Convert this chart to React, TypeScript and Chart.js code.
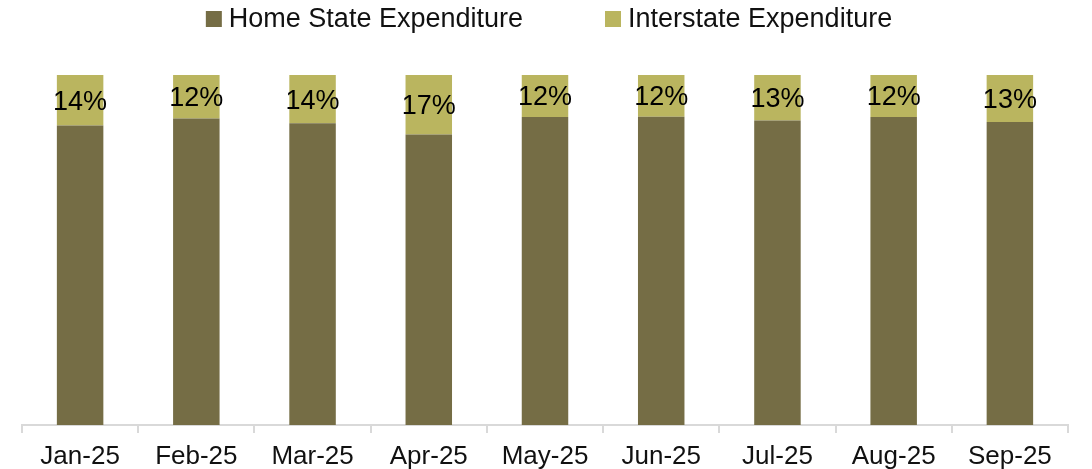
import React, { useEffect, useRef } from "react";
import { Chart, registerables } from "chart.js";

Chart.register(...registerables);

const categories = ["Jan-25", "Feb-25", "Mar-25", "Apr-25", "May-25", "Jun-25", "Jul-25", "Aug-25", "Sep-25"];
const interstateShare = [14.4, 12.4, 13.8, 17.0, 12.0, 11.9, 13.0, 12.0, 13.4];
const homeShare = interstateShare.map((v) => 100 - v);
const seriesNames = ["Home State Expenditure", "Interstate Expenditure"];
const colors = ["#756d45", "#bab55f"];

const FONT = "'Liberation Sans', Arial, sans-serif";

const labelPlugin = {
  id: "segLabels",
  afterDatasetsDraw(chart: any) {
    const ctx = chart.ctx;
    const meta = chart.getDatasetMeta(1);
    ctx.save();
    ctx.font = `27px ${FONT}`;
    ctx.fillStyle = "#000";
    ctx.textAlign = "center";
    ctx.textBaseline = "middle";
    meta.data.forEach((bar: any, i: number) => {
      const { x, y, base } = bar.getProps(["x", "y", "base"], true);
      ctx.fillText(`${Math.round(interstateShare[i])}%`, x, (y + base) / 2 + 2);
    });
    ctx.restore();
  },
};

const customLegend = {
  id: "customLegend",
  afterDraw(chart: any) {
    const ctx = chart.ctx;
    ctx.save();
    ctx.font = `27px ${FONT}`;
    ctx.textBaseline = "middle";
    ctx.textAlign = "left";
    const box = 16;
    const boxGap = 7;
    const itemGap = 82;
    const widths = seriesNames.map((n) => ctx.measureText(n).width);
    const total = widths.reduce((a, w) => a + box + boxGap + w, 0) + itemGap * (seriesNames.length - 1);
    let x = chart.width / 2 + 3 - total / 2;
    const cy = 19;
    seriesNames.forEach((name, i) => {
      ctx.fillStyle = colors[i];
      ctx.fillRect(x, cy - box / 2, box, box);
      x += box + boxGap;
      ctx.fillStyle = "#111";
      ctx.fillText(name, x, cy + 1);
      x += widths[i] + itemGap;
    });
    ctx.restore();
  },
};

export default function App() {
  const ref = useRef<HTMLCanvasElement>(null);
  useEffect(() => {
    if (!ref.current) return;
    const chart = new Chart(ref.current, {
      type: "bar",
      data: {
        labels: categories,
        datasets: [
          { label: seriesNames[0], data: homeShare, backgroundColor: colors[0] },
          { label: seriesNames[1], data: interstateShare, backgroundColor: colors[1] },
        ],
      },
      options: {
        animation: false,
        responsive: false,
        maintainAspectRatio: false,
        datasets: { bar: { barPercentage: 0.8, categoryPercentage: 0.5 } },
        layout: { padding: { left: 22, right: 24, top: 75, bottom: -12 } },
        plugins: {
          legend: { display: false },
          tooltip: { enabled: false },
        },
        scales: {
          x: {
            stacked: true,
            grid: {
              offset: true,
              drawOnChartArea: false,
              drawTicks: true,
              tickLength: 8,
              color: "#d9d9d9",
              lineWidth: 2,
            },
            border: { color: "#d9d9d9", width: 2 },
            ticks: { color: "#111", font: { family: FONT, size: 26, lineHeight: 1 }, padding: 11 },
          },
          y: { stacked: true, display: false, min: 0, max: 100 },
        },
      },
      plugins: [labelPlugin, customLegend],
    });
    return () => chart.destroy();
  }, []);
  return (
    <div style={{ position: "fixed", left: 0, top: 0, width: 1092, height: 469, background: "#fff" }}>
      <canvas ref={ref} width={1092} height={469} style={{ width: 1092, height: 469 }} />
    </div>
  );
}
